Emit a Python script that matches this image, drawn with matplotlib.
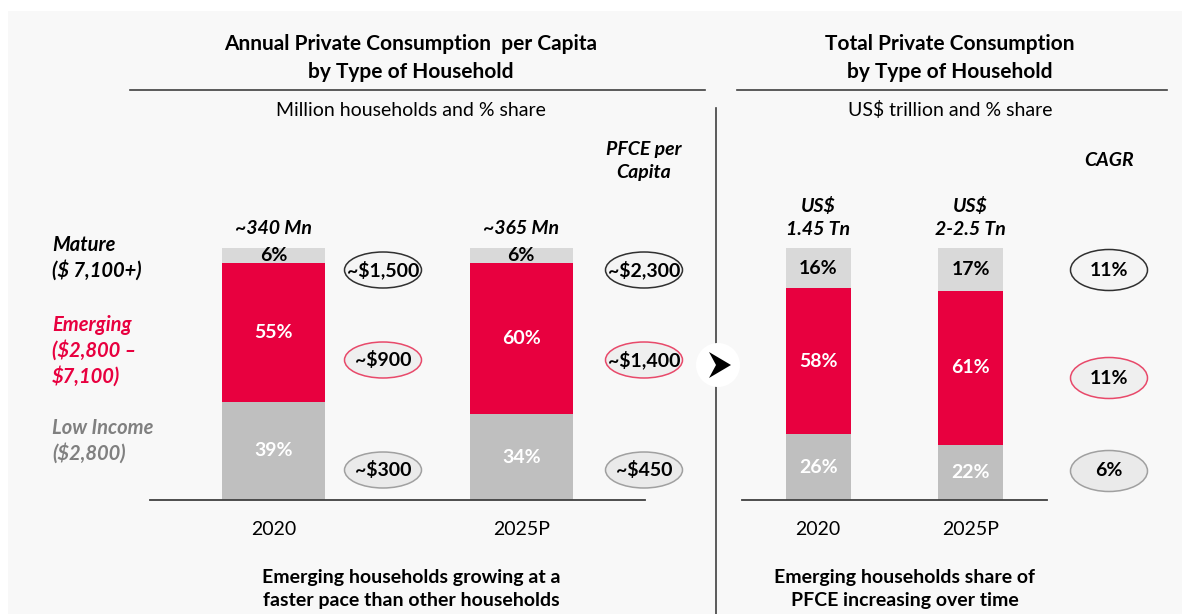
import numpy as np
import matplotlib
matplotlib.use("Agg")
import matplotlib.pyplot as plt
from matplotlib.patches import Ellipse, Circle, Polygon

plt.rcParams['font.family'] = ['Lato', 'DejaVu Sans']

# data
years = ['2020', '2025P']
hh_low = [39, 34]
hh_emerging = [55, 60]
hh_mature = [6, 6]
hh_totals = ['~340 Mn', '~365 Mn']
pfce_2020 = ['~$1,500', '~$900', '~$300']
pfce_2025 = ['~$2,300', '~$1,400', '~$450']

pc_low = [26, 22]
pc_emerging = [58, 61]
pc_mature = [16, 17]
pc_totals = ['US$\n1.45 Tn', 'US$\n2-2.5 Tn']
cagr = ['11%', '11%', '6%']

RED = '#e8003f'
LIGHT = '#d9d9d9'
GRAY = '#bfbfbf'
BG = '#f8f8f8'
W, H = 1182, 614

fig = plt.figure(figsize=(W / 100, H / 100), dpi=100)
fig.patch.set_facecolor('white')

# overlay in pixel coordinates
ov = fig.add_axes([0, 0, 1, 1])
ov.set_xlim(0, W)
ov.set_ylim(H, 0)
ov.axis('off')
ov.add_patch(plt.Rectangle((8, 11), W, H, facecolor=BG, edgecolor='none', zorder=0))


def px_axes(x0, x1, y0, y1):
    return fig.add_axes([x0 / W, (H - y1) / H, (x1 - x0) / W, (y1 - y0) / H])


def stacked(ax, low, mid, top, width):
    x = np.arange(len(low))
    low, mid, top = map(np.array, (low, mid, top))
    ax.bar(x, low, width, color=GRAY)
    ax.bar(x, mid, width, bottom=low, color=RED)
    ax.bar(x, top, width, bottom=low + mid, color=LIGHT)
    for i in x:
        ax.text(i, low[i] / 2, f'{low[i]}%', ha='center', va='center',
                color='white', fontsize=14, fontweight='bold')
        ax.text(i, low[i] + mid[i] / 2, f'{mid[i]}%', ha='center', va='center',
                color='white', fontsize=14, fontweight='bold')
        ax.text(i, low[i] + mid[i] + top[i] / 2, f'{top[i]}%', ha='center', va='center',
                color='black', fontsize=14, fontweight='bold')
    ax.set_xlim(-0.5, 1.5)
    ax.set_ylim(0, 100)
    ax.set_facecolor('none')
    for s in ['top', 'left', 'right']:
        ax.spines[s].set_visible(False)
    ax.spines['bottom'].set_color('#404040')
    ax.spines['bottom'].set_linewidth(1.3)
    ax.set_yticks([])
    ax.set_xticks(x)
    ax.set_xticklabels(years, fontsize=14)
    ax.tick_params(axis='x', length=0, pad=15)


ax1 = px_axes(150, 645, 248, 500)
stacked(ax1, hh_low, hh_emerging, hh_mature, 103 / 247)
for i, t in enumerate(hh_totals):
    ax1.text(i, 104.5, t, ha='center', va='bottom', fontsize=14,
             fontweight='bold', style='italic')

ax2 = px_axes(742, 1047, 248, 500)
stacked(ax2, pc_low, pc_emerging, pc_mature, 65 / 153)
for i, t in enumerate(pc_totals):
    ax2.text(i, 104, t, ha='center', va='bottom', fontsize=14,
             fontweight='bold', style='italic', linespacing=1.4)

# titles
ov.text(411, 58, 'Annual Private Consumption  per Capita\nby Type of Household', ha='center',
        va='center', fontsize=15, fontweight='bold', linespacing=1.55)
ov.text(950, 58, 'Total Private Consumption\nby Type of Household', ha='center',
        va='center', fontsize=15, fontweight='bold', linespacing=1.55)
ov.plot([130, 705], [90, 90], color='#404040', lw=1.2)
ov.plot([737, 1167], [90, 90], color='#404040', lw=1.2)
ov.text(411, 110, 'Million households and % share', ha='center', va='center', fontsize=14)
ov.text(950, 110, 'US$ trillion and % share', ha='center', va='center', fontsize=14)
ov.plot([716, 716], [108, H], color='#404040', lw=1.2)

# segment labels
seg = dict(fontsize=14.5, fontweight='bold', style='italic', ha='left', va='center',
           linespacing=1.3)
ov.text(52, 258, 'Mature\n($ 7,100+)', color='black', **seg)
ov.text(52, 351, 'Emerging\n($2,800 –\n$7,100)', color=RED, **seg)
ov.text(52, 441, 'Low Income\n($2,800)', color='#808080', **seg)

ov.text(644, 161, 'PFCE per\nCapita', ha='center', va='center', fontsize=14,
        fontweight='bold', style='italic', linespacing=1.4)
ov.text(1109, 160, 'CAGR', ha='center', va='center', fontsize=14,
        fontweight='bold', style='italic')

edges = ['#303030', '#e8496a', '#a0a0a0']
fills = ['#f4f4f4', '#efefef', '#eaeaea']
rows_y = [270, 360, 470]
for cx, labels in [(383, pfce_2020), (644, pfce_2025)]:
    for j, lab in enumerate(labels):
        ov.add_patch(Ellipse((cx, rows_y[j]), 77, 36, facecolor=fills[j],
                             edgecolor=edges[j], lw=1.1))
        ov.text(cx, rows_y[j], lab, ha='center', va='center', fontsize=14,
                fontweight='bold')
cagr_y = [270, 378, 471]
for j, lab in enumerate(cagr):
    ov.add_patch(Ellipse((1109, cagr_y[j]), 77, 41, facecolor=fills[j],
                         edgecolor=edges[j], lw=1.1))
    ov.text(1109, cagr_y[j], lab, ha='center', va='center', fontsize=14,
            fontweight='bold')

# chevron
ov.add_patch(Circle((718, 365), 22, facecolor='white', edgecolor='none', zorder=3))
ov.add_patch(Polygon([(709, 352), (731, 365), (709, 378), (716, 365)],
                     closed=True, facecolor='black', edgecolor='none', zorder=4))

# bottom notes
ov.text(411, 589, 'Emerging households growing at a\nfaster pace than other households',
        ha='center', va='center', fontsize=14, fontweight='bold', linespacing=1.45)
ov.text(905, 589, 'Emerging households share of\nPFCE increasing over time',
        ha='center', va='center', fontsize=14, fontweight='bold', linespacing=1.45)

fig.savefig('out.png', dpi=100, facecolor=fig.get_facecolor())
